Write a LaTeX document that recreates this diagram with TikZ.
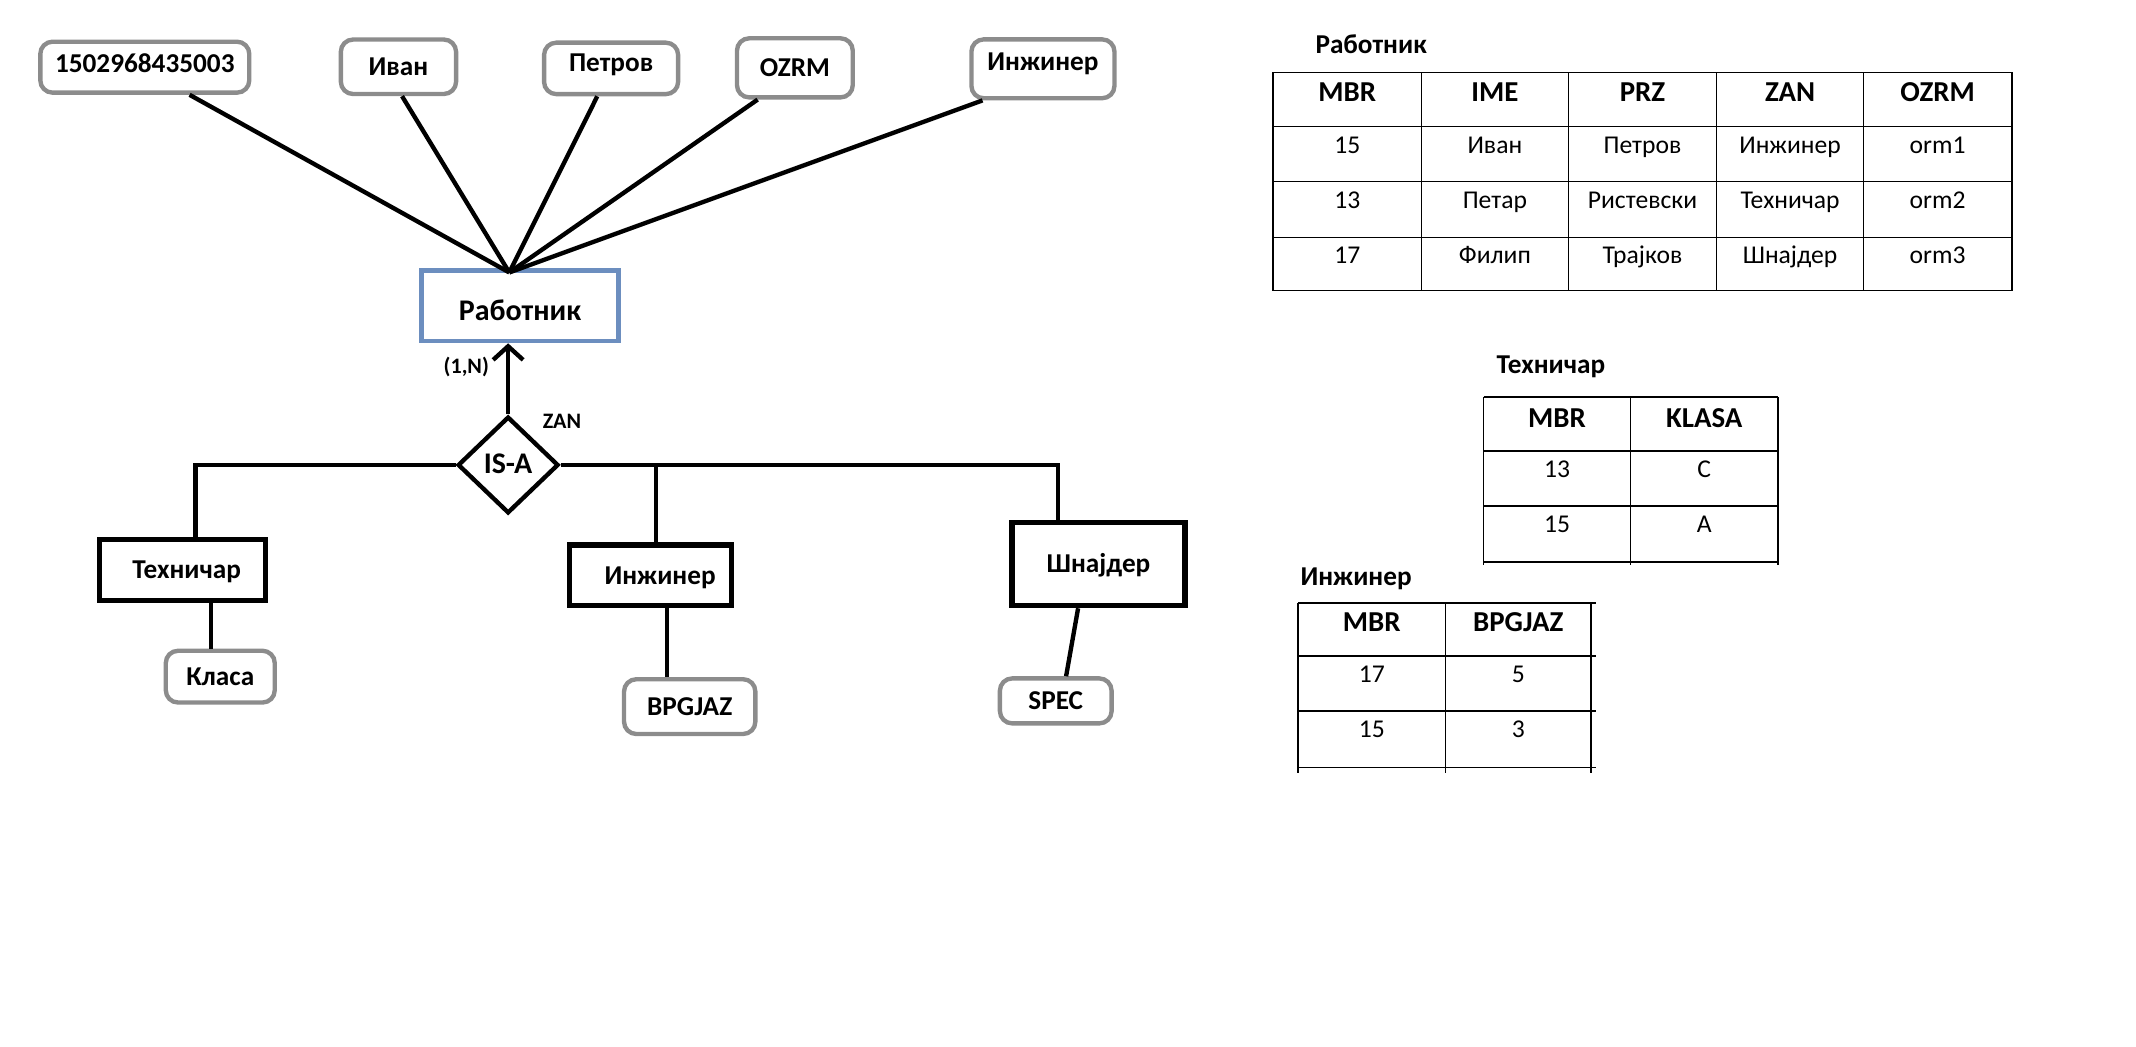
\documentclass[tikz,border=0pt]{standalone}
\usepackage{fontspec}
\setmainfont{Carlito}
\usetikzlibrary{shapes.geometric,arrows.meta,calc}
\definecolor{attrgray}{RGB}{140,140,140}
\definecolor{entblue}{RGB}{108,142,191}
\tikzset{
  boxtext/.style={inner sep=0pt, text height=0.65em, text depth=0pt},
  attr/.style={boxtext, draw=attrgray, line width=1.6pt, rounded corners=4.5pt,
    font=\bfseries\fontsize{10}{12}\selectfont},
  entity/.style={boxtext, draw=black, line width=2pt,
    font=\bfseries\fontsize{10}{12}\selectfont},
  isabox/.style={boxtext, draw, diamond, line width=1.6pt,
    font=\bfseries\fontsize{11}{13}\selectfont},
  link/.style={line width=1.6pt, draw=black},
  note/.style={inner sep=0pt, anchor=base, font=\bfseries\fontsize{8.1}{10}\selectfont},
  tgrid/.style={line width=0.55pt},
  ttitle/.style={inner sep=0pt, anchor=base, font=\bfseries\fontsize{10}{12}\selectfont},
  thead/.style={inner sep=0pt, anchor=base, font=\bfseries\fontsize{10.6}{12}\selectfont},
  tcell/.style={inner sep=0pt, anchor=base, font=\fontsize{9.4}{11}\selectfont},
}
\begin{document}
\begin{tikzpicture}[x=0.5pt,y=-0.5pt]
\useasboundingbox (0,0) rectangle (1568,768);

% ---------- ER diagram ----------
% attributes of Работник (text height sets the baseline inside each box)
\node[attr, text height=4pt, minimum width=76.7pt, minimum height=18.7pt] (a1) at (106.3,49.3) {1502968435003};
\node[attr, minimum width=42.3pt, minimum height=20pt]   (a2) at (292.5,49)   {Иван};
\node[attr, text height=2.4pt, minimum width=49.2pt, minimum height=18.9pt] (a3) at (448.6,50.2) {Петров};
\node[attr, minimum width=42.5pt, minimum height=21.7pt] (a4) at (583.5,49.8) {OZRM};
\node[attr, text height=0.9pt, minimum width=52.5pt, minimum height=21.6pt] (a5) at (765.6,50.5) {Инжинер};

% supertype entity
\node[boxtext, text height=10.4pt, draw=entblue, line width=1.7pt, minimum width=72.2pt, minimum height=25.8pt,
      font=\bfseries\fontsize{11}{13}\selectfont] (rab) at (381.7,224.5) {Работник};
\coordinate (hub) at ($(rab.north west)!0.447!(rab.north east)+(0,3)$);

% IS-A relationship
\node[isabox, minimum width=37pt, minimum height=35.5pt] (isa) at (373,341.3) {IS-A};
\node[note] (card) at (342.3,274) {(1,N)};
\node[note] (disc) at (412.5,314.6) {ZAN};

% subtype entities
\node[entity, minimum width=60.8pt, minimum height=22.5pt] (tech) at (134,418.5) {\hspace*{3pt}Техничар};
\node[entity, minimum width=59.4pt, minimum height=22.3pt] (inz)  at (477.6,422.3) {\hspace*{7pt}Инжинер};
\node[entity, minimum width=63.4pt, minimum height=30.5pt] (shn)  at (806.4,414) {Шнајдер};

% attributes of the subtypes
\node[attr, minimum width=40pt,   minimum height=19pt]   (klasa) at (161.7,496.7) {Класа};
\node[attr, minimum width=48.2pt, minimum height=20.1pt] (bpg)   at (506.3,518.7) {BPGJAZ};
\node[attr, minimum width=41pt,   minimum height=16.5pt] (spec)  at (775,514.5)   {SPEC};

% attribute links
\draw[link] ($(a1.south west)!0.71!(a1.south east)$) -- (hub);
\draw[link] ($(a2.south west)!0.53!(a2.south east)$) -- (hub);
\draw[link] ($(a3.south west)!0.40!(a3.south east)$) -- (hub);
\draw[link] ($(a4.south west)!0.19!(a4.south east)$) -- (hub);
\draw[link] ($(a5.south west)!0.09!(a5.south east)$) -- (hub);

% IS-A to supertype
\draw[link, -{Straight Barb[length=5pt,width=11pt]}] (isa.north) -- (isa.north |- rab.south);

% IS-A to subtypes
\coordinate (jL) at ($(isa.west)+(-191,0)$);
\coordinate (jM) at ($(isa.east)+(70,0)$);
\coordinate (jR) at ($(isa.east)+(365,0)$);
\draw[link] (isa.west) -- (jL) -- (jL |- tech.north);
\draw[link] (isa.east) -- (jR) -- (jR |- shn.north);
\draw[link] (jM) -- (jM |- inz.north);

% subtype attribute links
\draw[link] ([xshift=10.5pt]tech.south) -- ([xshift=10.5pt]tech.south |- klasa.north);
\draw[link] ([xshift=6pt]inz.south) -- ([xshift=6pt]inz.south |- bpg.north);
\draw[link] ([xshift=-7.5pt]shn.south) -- ([xshift=3.8pt]spec.north);

% ---------- relation tables ----------
% Работник
\node[ttitle] (t1) at (1006.5,39.1) {Работник};
\foreach \x in {934.5,1043.5,1151.4,1260,1367.9,1476.8}
  \draw[tgrid] (\x,53.1) -- (\x,213.4);
\foreach \y in {53.1,93,133.4,174.2,213.4}
  \draw[tgrid] (934.5,\y) -- (1476.8,\y);
\foreach \t [count=\i] in {MBR,IME,PRZ,ZAN,OZRM}
  \node[thead] (t1h\i) at ({989+108.35*(\i-1)},74.6) {\t};
\foreach \t [count=\i] in {15,Иван,Петров,Инжинер,orm1}
  \node[tcell] (t1a\i) at ({989+108.35*(\i-1)},112.6) {\t};
\foreach \t [count=\i] in {13,Петар,Ристевски,Техничар,orm2}
  \node[tcell] (t1b\i) at ({989+108.35*(\i-1)},152.9) {\t};
\foreach \t [count=\i] in {17,Филип,Трајков,Шнајдер,orm3}
  \node[tcell] (t1c\i) at ({989+108.35*(\i-1)},193.3) {\t};

% Техничар
\node[ttitle] (t2) at (1138.5,274) {Техничар};
\foreach \x in {1089,1197,1305}
  \draw[tgrid] (\x,291.5) -- (\x,415);
\foreach \y in {291.5,331,371.5,412.5}
  \draw[tgrid] (1089,\y) -- (1305,\y);
\node[thead] (t2h1) at (1143,313.5) {MBR};
\node[thead] (t2h2) at (1251,313.5) {KLASA};
\node[tcell] (t2a1) at (1143,350.5) {13};
\node[tcell] (t2a2) at (1251,350.5) {C};
\node[tcell] (t2b1) at (1143,391) {15};
\node[tcell] (t2b2) at (1251,391) {A};

% Инжинер
\node[ttitle] (t3) at (995.5,429.5) {Инжинер};
\foreach \x in {953,1061,1168}
  \draw[tgrid] (\x,442.5) -- (\x,567.5);
\foreach \y in {442.5,481.6,522,563.3}
  \draw[tgrid] (953,\y) -- (1171.5,\y);
\node[thead] (t3h1) at (1007,463.7) {MBR};
\node[thead] (t3h2) at (1114.5,463.7) {BPGJAZ};
\node[tcell] (t3a1) at (1007,501) {17};
\node[tcell] (t3a2) at (1114.5,501) {5};
\node[tcell] (t3b1) at (1007,541.5) {15};
\node[tcell] (t3b2) at (1114.5,541.5) {3};
\end{tikzpicture}
\end{document}
